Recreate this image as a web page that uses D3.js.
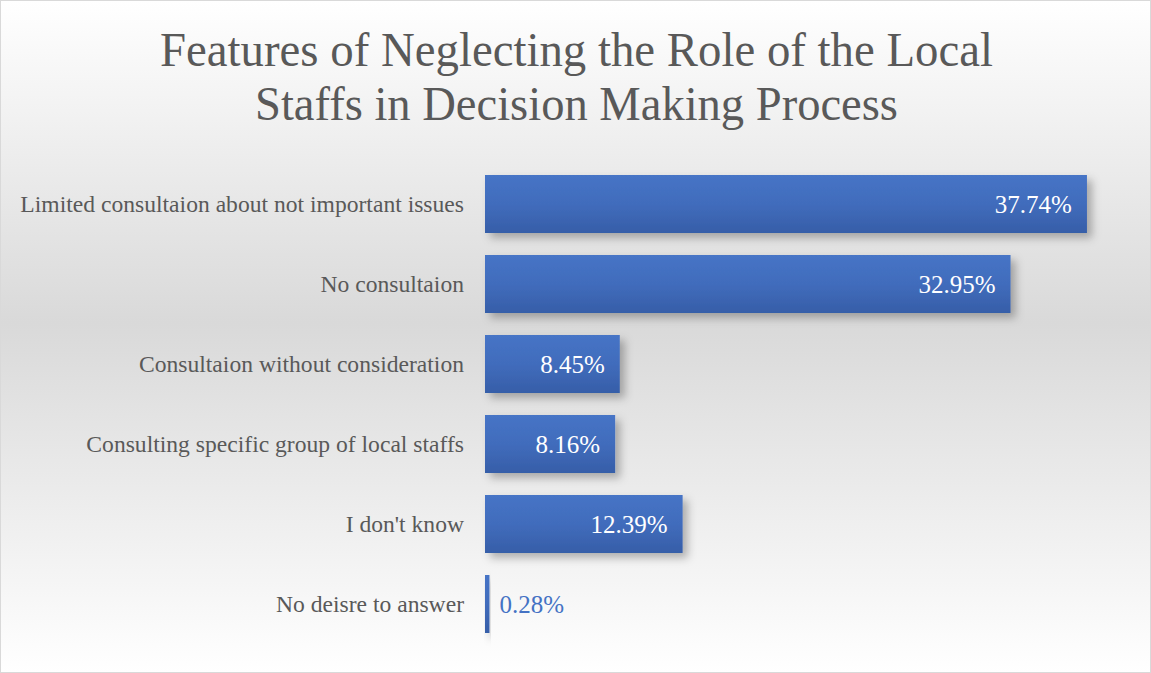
<!DOCTYPE html>
<html>
<head>
<meta charset="utf-8">
<script src="https://cdn.jsdelivr.net/npm/d3@7"></script>
<style>
  html, body { margin: 0; padding: 0; background: #fff; }
  svg { display: block; }
</style>
</head>
<body>
<svg id="chart" width="1151" height="673"></svg>
<script>
// Survey responses: features of neglecting local staff in decisions
const titleLines = [
  "Features of Neglecting the Role of the Local",
  "Staffs in Decision Making Process"
];
const categories = [
  "Limited consultaion about not important issues",
  "No consultaion",
  "Consultaion without consideration",
  "Consulting specific group of local staffs",
  "I don't know",
  "No deisre to answer"
];
const values = [37.74, 32.95, 8.45, 8.16, 12.39, 0.28];
const valueLabels = ["37.74%", "32.95%", "8.45%", "8.16%", "12.39%", "0.28%"];

const W = 1151, H = 673;
const svg = d3.select("#chart");
const defs = svg.append("defs");

// Chart area background: light at top and bottom, grey through the middle
const bg = defs.append("linearGradient").attr("id", "bgGrad")
  .attr("x1", 0).attr("y1", 0).attr("x2", 0).attr("y2", 1);
bg.append("stop").attr("offset", "0%").attr("stop-color", "#ffffff");
bg.append("stop").attr("offset", "48%").attr("stop-color", "#d9d9d9");
bg.append("stop").attr("offset", "100%").attr("stop-color", "#ffffff");

// Bar fill: slightly darker towards the bottom edge
const barGrad = defs.append("linearGradient").attr("id", "barGrad")
  .attr("x1", 0).attr("y1", 0).attr("x2", 0).attr("y2", 1);
barGrad.append("stop").attr("offset", "0%").attr("stop-color", "#4674c6");
barGrad.append("stop").attr("offset", "50%").attr("stop-color", "#416cbc");
barGrad.append("stop").attr("offset", "100%").attr("stop-color", "#365ea8");

const shadow = defs.append("filter").attr("id", "barShadow")
  .attr("x", "-10%").attr("y", "-30%").attr("width", "130%").attr("height", "180%");
shadow.append("feDropShadow")
  .attr("dx", 5).attr("dy", 5).attr("stdDeviation", 4)
  .attr("flood-color", "#000").attr("flood-opacity", 0.28);

svg.append("rect")
  .attr("x", 0.5).attr("y", 0.5).attr("width", W - 1).attr("height", H - 1)
  .attr("fill", "url(#bgGrad)").attr("stroke", "#d9d9d9").attr("stroke-width", 1);

// Title, two centred lines squeezed to a condensed width
const titleWidths = [833, 643];
svg.append("g").selectAll("text").data(titleLines).join("text")
  .attr("x", W / 2 + 1)
  .attr("y", (d, i) => 66 + i * 54)
  .attr("text-anchor", "middle")
  .attr("font-family", "'Liberation Serif', 'DejaVu Serif', serif")
  .attr("font-size", 49)
  .attr("fill", "#595959")
  .attr("textLength", (d, i) => titleWidths[i])
  .attr("lengthAdjust", "spacingAndGlyphs")
  .text(d => d);

// Scales
const x = d3.scaleLinear().domain([0, 40]).range([485, 485 + 15.95 * 40]);
const y = d3.scaleBand().domain(categories).range([164, 644])
  .paddingInner(0.275).paddingOuter(0.1375);

// Category axis (labels only, no line or ticks)
const yAxis = svg.append("g")
  .attr("transform", `translate(${x(0)},0)`)
  .call(d3.axisLeft(y).tickSize(0).tickPadding(21));
yAxis.select(".domain").remove();
yAxis.selectAll("text")
  .attr("font-family", "'Liberation Serif', 'DejaVu Serif', serif")
  .attr("font-size", 23.6)
  .attr("fill", "#595959");

// Bars
svg.append("g").selectAll("rect").data(values).join("rect")
  .attr("x", x(0))
  .attr("y", (d, i) => y(categories[i]))
  .attr("width", d => x(d) - x(0))
  .attr("height", y.bandwidth())
  .attr("fill", "url(#barGrad)")
  .attr("filter", "url(#barShadow)");

// Value labels: inside the bar end, or just outside for tiny bars
svg.append("g").selectAll("text").data(values).join("text")
  .attr("x", (d, i) => d < 2 ? x(d) + 10 : x(d) - 15)
  .attr("y", (d, i) => y(categories[i]) + y.bandwidth() / 2)
  .attr("dy", "0.35em")
  .attr("text-anchor", d => d < 2 ? "start" : "end")
  .attr("font-family", "'Liberation Serif', 'DejaVu Serif', serif")
  .attr("font-size", 25)
  .attr("fill", d => d < 2 ? "#4472c4" : "#ffffff")
  .text((d, i) => valueLabels[i]);
</script>
</body>
</html>
